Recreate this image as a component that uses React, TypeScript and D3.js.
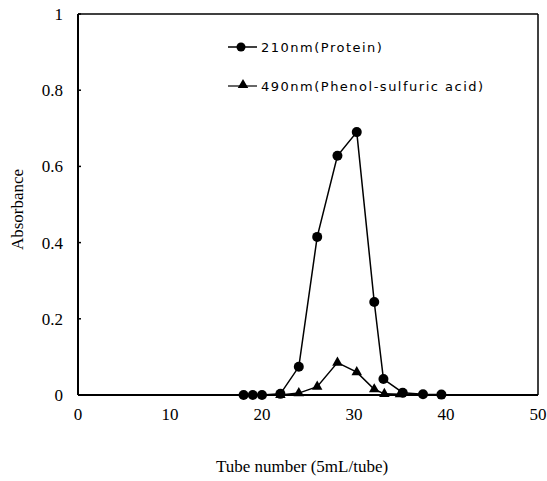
import React from "react";
import * as d3 from "d3";

const proteinTubes = [18, 19, 20, 22, 24, 26, 28.2, 30.3, 32.2, 33.2, 35.3, 37.5, 39.5];
const proteinValues = [0, 0, 0, 0.003, 0.074, 0.415, 0.628, 0.69, 0.244, 0.042, 0.006, 0.002, 0.001];
const sugarTubes = [22, 24, 26, 28.2, 30.3, 32.2, 33.3, 35];
const sugarValues = [0, 0.005, 0.022, 0.085, 0.06, 0.015, 0.003, 0.002];
const xTicks = [0, 10, 20, 30, 40, 50];
const yTicks = [0, 0.2, 0.4, 0.6, 0.8, 1];
const yTickLabels = ["0", "0.2", "0.4", "0.6", "0.8", "1"];
const legendLabels = ["210nm(Protein)", "490nm(Phenol-sulfuric acid)"];

export default function App() {
  const W = 547, H = 481;
  const x = d3.scaleLinear().domain([0, 50]).range([78, 538]);
  const y = d3.scaleLinear().domain([0, 1]).range([395, 14]);
  const line = d3.line<[number, number]>().x(d => x(d[0])).y(d => y(d[1]));
  const pData: [number, number][] = proteinTubes.map((t, i) => [t, proteinValues[i]]);
  const sData: [number, number][] = sugarTubes.map((t, i) => [t, sugarValues[i]]);
  const tri = d3.symbol().type(d3.symbolTriangle).size(48)() as string;
  const serif = "'Liberation Serif', 'DejaVu Serif', serif";
  const sans = "'DejaVu Sans', Arial, sans-serif";
  return (
    <svg width={W} height={H} style={{ position: "absolute", left: 0, top: 0, background: "#fff" }}>
      <rect x={0} y={0} width={W} height={H} fill="#fff" />
      {/* frame */}
      <line x1={x(0)} x2={x(50)} y1={y(1)} y2={y(1)} stroke="#000" strokeWidth={1.5} />
      <line x1={x(50)} x2={x(50)} y1={y(1)} y2={y(0)} stroke="#000" strokeWidth={1.5} />
      <line x1={x(0)} x2={x(50)} y1={y(0)} y2={y(0)} stroke="#000" strokeWidth={2} />
      <line x1={x(0)} x2={x(0)} y1={y(1)} y2={y(0)} stroke="#000" strokeWidth={2} />
      {yTicks.map((t, i) => (
        <g key={"y" + i}>
          <line x1={x(0)} x2={x(0) + 3} y1={y(t)} y2={y(t)} stroke="#000" strokeWidth={1.5} />
          <text x={63} y={y(t)} dy="0.35em" textAnchor="end" fontFamily={serif} fontSize={17}>
            {yTickLabels[i]}
          </text>
        </g>
      ))}
      {xTicks.map((t, i) => (
        <text key={"x" + i} x={x(t)} y={420} textAnchor="middle" fontFamily={serif} fontSize={17}>
          {t}
        </text>
      ))}
      <text x={302} y={472} textAnchor="middle" fontFamily={serif} fontSize={17}>
        Tube number (5mL/tube)
      </text>
      <text transform={`translate(23,${y(0.5) + 5}) rotate(-90)`} textAnchor="middle" fontFamily={serif} fontSize={17}>
        Absorbance
      </text>
      {/* series */}
      <path d={line(pData) as string} fill="none" stroke="#000" strokeWidth={1.5} />
      <path d={line(sData) as string} fill="none" stroke="#000" strokeWidth={1.5} />
      {pData.map((d, i) => (
        <circle key={"p" + i} cx={x(d[0])} cy={y(d[1])} r={5} fill="#000" />
      ))}
      {sData.map((d, i) => (
        <path key={"s" + i} d={tri} transform={`translate(${x(d[0])},${y(d[1])})`} fill="#000" />
      ))}
      {/* legend */}
      <line x1={228} x2={257} y1={47} y2={47} stroke="#000" strokeWidth={1.5} />
      <circle cx={241} cy={47} r={4.5} fill="#000" />
      <text x={261} y={47} dy="0.35em" fontFamily={sans} fontSize={13} letterSpacing={1.5}>
        {legendLabels[0]}
      </text>
      <line x1={228} x2={257} y1={86} y2={86} stroke="#000" strokeWidth={1.2} />
      <path d={tri} transform="translate(243,85)" fill="#000" />
      <text x={261} y={86} dy="0.35em" fontFamily={sans} fontSize={13} letterSpacing={1.5}>
        {legendLabels[1]}
      </text>
    </svg>
  );
}
